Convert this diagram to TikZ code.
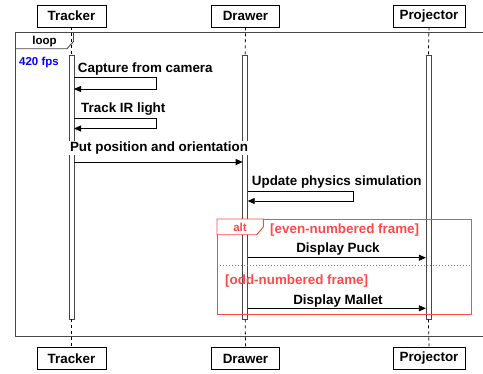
\documentclass[tikz,border=0pt]{standalone}
\usepackage{fontspec}
\setmainfont{Liberation Sans}
\usetikzlibrary{arrows.meta}
\definecolor{altred}{RGB}{255,72,72}
\definecolor{frameg}{RGB}{70,70,70}
\definecolor{fpsblue}{RGB}{0,0,255}
\begin{document}
\begin{tikzpicture}[x=1pt,y=-1pt,
  every node/.style={font=\fontsize{13.4}{16}\selectfont\bfseries, inner sep=0pt},
  actor/.style={draw=black, line width=0.9pt, minimum height=22pt, fill=white},
  actbar/.style={draw=frameg, line width=0.8pt, fill=white, minimum width=5pt, minimum height=264pt},
  lifeline/.style={draw=black, line width=0.8pt, dash pattern=on 3pt off 3pt},
  msg/.style={draw=black, line width=0.8pt, -{Triangle[length=7pt,width=6pt]}},
  lbl/.style={anchor=base west},
  small/.style={font=\fontsize{11.5}{14}\selectfont\bfseries}]
\useasboundingbox (0,0) rectangle (483,373);

% loop frame
\draw[frameg, line width=0.9pt] (483,32) -- (15,32) -- (15,336) -- (483,336);
\draw[frameg, line width=0.9pt] (15,48.7) -- (67,48.7) -- (73.5,41.5) -- (73.5,32);
\node[small] (looplbl) at (44.5,42) {loop};
\node[small, text=fpsblue, lbl] (fps) at (19,65) {420 fps};

% actors
\node[actor, minimum width=69pt] (t1) at (71.5,16) {Tracker};
\node[actor, minimum width=68pt] (d1) at (245.5,16) {Drawer};
\node[actor, minimum width=72pt] (p1) at (429,16) {Projector};
\node[actor, minimum width=69pt] (t2) at (71.5,358.5) {Tracker};
\node[actor, minimum width=68pt] (d2) at (245.5,358.5) {Drawer};
\node[actor, minimum width=72pt] (p2) at (429,358.5) {Projector};

% activation bars
\node[actbar] (tb) at (71.5,187) {};
\node[actbar] (db) at (245.2,187) {};
\node[actbar] (pb) at (428.4,187) {};

% lifelines
\draw[lifeline] (t1.south) -- (tb.north);
\draw[lifeline] (d1.south) -- (db.north);
\draw[lifeline] (p1.south) -- (pb.north);
\draw[lifeline] (tb.south) -- (t2.north);
\draw[lifeline] (db.south) -- (d2.north);
\draw[lifeline] (pb.south) -- (p2.north);

% messages
\coordinate (c1a) at (74,77.7);
\coordinate (c1b) at (74,89);
\node[lbl] (m1) at (77.7,72.7) {Capture from camera};
\draw[msg] (c1a) -- (156,77.7) -- (156,89) -- (c1b);

\coordinate (c2a) at (74,118);
\coordinate (c2b) at (74,128.5);
\node[lbl] (m2) at (81,112.3) {Track IR light};
\draw[msg] (c2a) -- (156,118) -- (156,128.5) -- (c2b);

\coordinate (c3a) at (74,162);
\coordinate (c3b) at (242.7,162);
\draw[msg] (c3a) -- (c3b);
\node[anchor=base, fill=white, inner sep=1pt] (m3) at (159,151.7) {Put position and orientation};

\coordinate (c4a) at (247.7,191);
\coordinate (c4b) at (247.7,201);
\node[lbl] (m4) at (251.7,185) {Update physics simulation};
\draw[msg] (c4a) -- (353,191) -- (353,201) -- (c4b);

% alt frame
\draw[altred, line width=0.9pt] (217,219) rectangle (471,314);
\draw[altred, line width=0.9pt, fill=white] (217,219) -- (217,234.7) -- (256.7,234.7) -- (263.3,227) -- (263.3,219) -- cycle;
\node[small, text=altred] (altlbl) at (240,227) {alt};
\node[lbl, text=altred] (g1) at (270,233.5) {[even-numbered frame]};
\draw[altred, line width=0.8pt, dash pattern=on 1pt off 2pt] (217,265.7) -- (471,265.7);
\node[lbl, text=altred] (g2) at (225,284.5) {[odd-numbered frame]};

\coordinate (c5a) at (247.7,257.7);
\coordinate (c5b) at (425.9,257.7);
\node[anchor=base] (m5) at (338,252.7) {Display Puck};
\draw[msg] (c5a) -- (c5b);

\coordinate (c6a) at (247.7,308.3);
\coordinate (c6b) at (425.9,308.3);
\node[anchor=base] (m6) at (338,304) {Display Mallet};
\draw[msg] (c6a) -- (c6b);
\end{tikzpicture}
\end{document}
